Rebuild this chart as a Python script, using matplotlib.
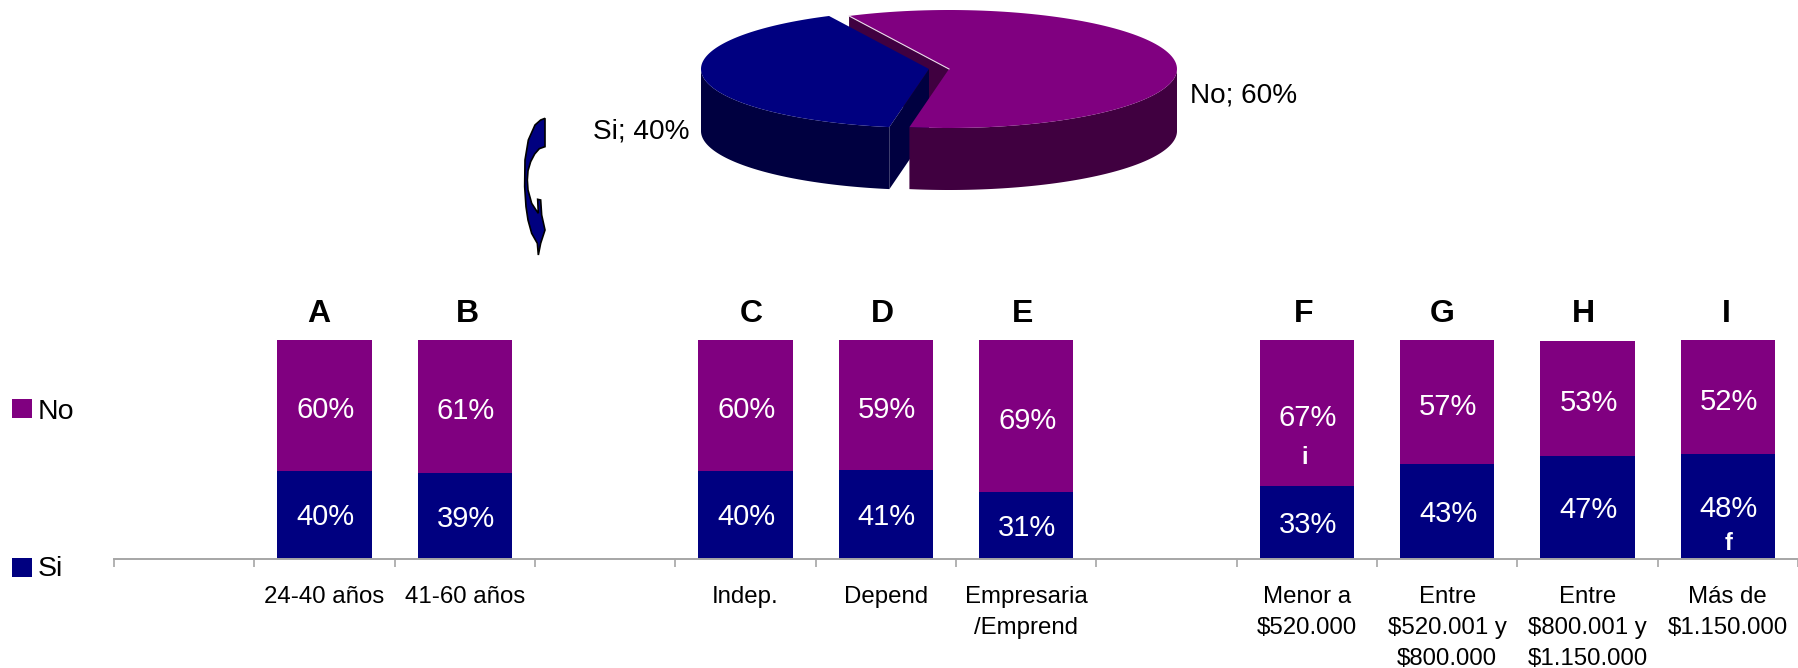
import numpy as np
import matplotlib
matplotlib.use("Agg")
import matplotlib.pyplot as plt
from matplotlib.patches import Rectangle

plt.rcParams['font.family'] = ['Liberation Sans', 'DejaVu Sans']

# data, blanks are the gaps between the groups of bars
categories = ['', '24-40 años', '41-60 años', '', 'Indep.', 'Depend',
              'Empresaria\n/Emprend', '', 'Menor a\n$520.000',
              'Entre\n$520.001 y\n$800.000', 'Entre\n$800.001 y\n$1.150.000',
              'Más de\n$1.150.000']
letters = ['', 'A', 'B', '', 'C', 'D', 'E', '', 'F', 'G', 'H', 'I']
si_values = [0, 40, 39, 0, 40, 40.4, 30.3, 0, 33, 43, 46.8, 47.7]
no_values = [0, 60, 61, 0, 60, 59.6, 69.7, 0, 67, 57, 52.7, 52.3]
si_labels = ['', '40%', '39%', '', '40%', '41%', '31%', '', '33%', '43%', '47%', '48%']
no_labels = ['', '60%', '61%', '', '60%', '59%', '69%', '', '67%', '57%', '53%', '52%']
pie_labels = ['No', 'Si']
pie_values = [60, 40]

NO_COLOR = '#800080'
NO_DARK = '#400040'
SI_COLOR = '#000080'
SI_DARK = '#000040'
W, H = 1798, 668


def ring(cx, cy, t0, t1, n=120):
    t = np.radians(np.linspace(t0, t1, n))
    return cx + 228 * np.cos(t), cy - 59 * np.sin(t)


def wall(ax, cx, cy, t0, t1, depth, color):
    x, y = ring(cx, cy, t0, t1)
    ax.fill(np.r_[x, x[::-1]], np.r_[y, y[::-1] + depth], color=color, lw=0)


fig = plt.figure(figsize=(W / 100, H / 100), dpi=100)

# stacked bars
ax = fig.add_axes([114 / W, 1 - 558.5 / H, (W - 114) / W, 219 / H])
xs = np.arange(len(categories))
ax.bar(xs, si_values, width=0.67, color=SI_COLOR)
ax.bar(xs, no_values, width=0.67, bottom=si_values, color=NO_COLOR)
ax.set_xlim(-0.5, 11.5)
ax.set_ylim(0, 100)
ax.set_yticks([])
for side in ['top', 'left', 'right']:
    ax.spines[side].set_visible(False)
ax.spines['bottom'].set_color('#A6A6A6')
ax.spines['bottom'].set_linewidth(1.4)
ax.set_xticks(xs, categories, fontsize=17.3, linespacing=1.52)
ax.tick_params(axis='x', which='major', length=0, pad=20)
ax.set_xticks(np.arange(-0.5, 12), minor=True)
ax.tick_params(axis='x', which='minor', length=6, width=1.2, color='#A6A6A6')

for x, si, no, sl, nl in zip(xs, si_values, no_values, si_labels, no_labels):
    if sl:
        ax.annotate(sl, (x, si / 2), xytext=(0.7, -2), textcoords='offset points',
                    color='white', fontsize=21, ha='center', va='center')
        ax.annotate(nl, (x, si + no / 2), xytext=(0.7, -3.6), textcoords='offset points',
                    color='white', fontsize=21, ha='center', va='center')

# overlay in pixel coordinates for the pie and the loose notes
ov = fig.add_axes([0, 0, 1, 1], facecolor='none')
ov.set_xlim(0, W)
ov.set_ylim(H, 0)
ov.axis('off')

# 3d pie, slices run counter clockwise from the front cut
start = -100
no_end = start + 360 * pie_values[0] / sum(pie_values)
si_end = no_end + 360 * pie_values[1] / sum(pie_values)
no_c = (949, 69)
si_c = (929, 69)
depth = 62

# cut face of the purple slice, seen through the gap
ex, ey = ring(*no_c, no_end, no_end, n=1)
ov.fill([no_c[0], ex[0], ex[0], no_c[0]],
        [no_c[1], ey[0], ey[0] + depth, no_c[1] + depth], color=NO_DARK, lw=0)

# blue slice
wall(ov, *si_c, 180, si_end, depth, SI_DARK)
x, y = ring(*si_c, no_end, si_end)
ov.fill(np.r_[si_c[0], x], np.r_[si_c[1], y], color=SI_COLOR, lw=0)
ex, ey = ring(*si_c, si_end, si_end, n=1)
ov.fill([si_c[0], ex[0], ex[0], si_c[0]],
        [si_c[1], ey[0], ey[0] + depth, si_c[1] + depth], color=SI_DARK, lw=0)

# purple slice
wall(ov, *no_c, start, 0, depth, NO_DARK)
x, y = ring(*no_c, start, no_end)
ov.fill(np.r_[no_c[0], x], np.r_[no_c[1], y], color=NO_COLOR, lw=0)
ex, ey = ring(*no_c, no_end, no_end, n=1)
ov.plot([no_c[0], ex[0]], [no_c[1], ey[0]], color='#E8D8E8', lw=0.8)

ov.text(1190, 96, '%s; %d%%' % (pie_labels[0], pie_values[0]), fontsize=20.2, va='center')
ov.text(593, 132, '%s; %d%%' % (pie_labels[1], pie_values[1]), fontsize=20.2, va='center')

# curved arrow next to the pie
arrow_x = [135, 135, 118, 104, 92, 84, 82, 84, 95, 108, 115, 113, 122, 125, 135, 122, 115, 112, 95, 84, 78, 74, 75, 85, 105, 122]
arrow_y = [55, 140, 146, 162, 185, 212, 240, 270, 310, 330, 340, 298, 300, 345, 390, 430, 465, 430, 400, 360, 320, 260, 180, 120, 75, 60]
ov.fill(500 + np.array(arrow_x) / 3, 100 + np.array(arrow_y) / 3,
        facecolor=SI_COLOR, edgecolor='black', lw=1.2)

# letters over the bars, they sit a bit off centre
letter_shift = [0, -6, 3, 0, 6, -3, -4, 0, -3, -5, -4, -1]
for i, s in enumerate(letters):
    if s:
        ov.text(114 + 140.33 * (i + 0.5) + letter_shift[i], 314, s, fontsize=23,
                fontweight='bold', ha='center', va='center')

ov.text(1305, 457, 'i', color='white', fontsize=17, fontweight='bold', ha='center', va='center')
ov.text(1729, 543, 'f', color='white', fontsize=17, fontweight='bold', ha='center', va='center')

# legend
ov.add_patch(Rectangle((12, 399), 20, 19, color=NO_COLOR, lw=0))
ov.add_patch(Rectangle((12, 558), 20, 19, color=SI_COLOR, lw=0))
ov.text(38, 412, 'No', fontsize=20.5, va='center')
ov.text(38, 569, 'Si', fontsize=20.5, va='center')

fig.savefig('out.png', dpi=100)
